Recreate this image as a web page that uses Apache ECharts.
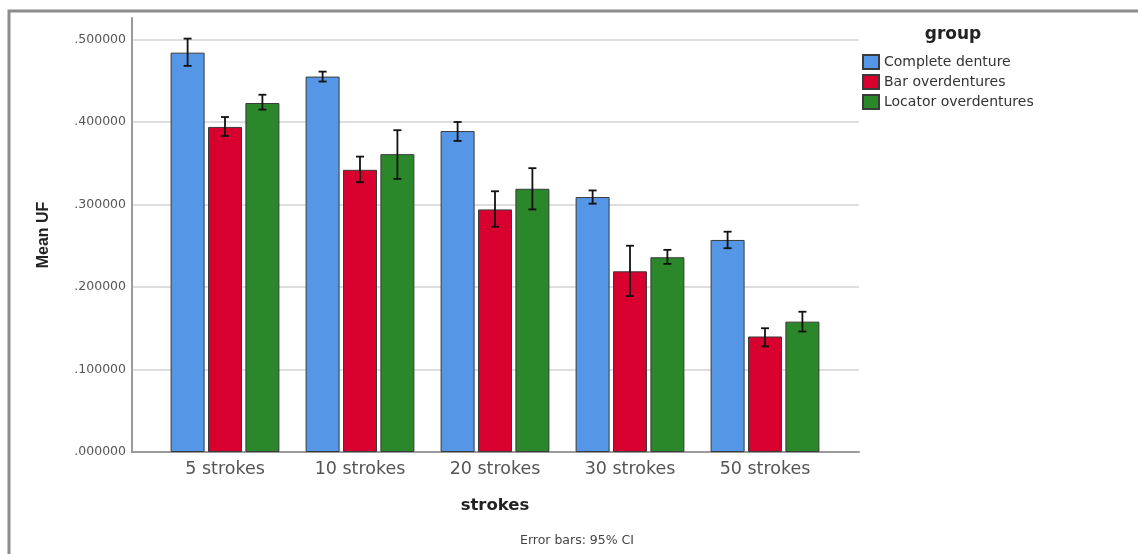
<!DOCTYPE html>
<html>
<head>
<meta charset="utf-8">
<script src="https://cdn.jsdelivr.net/npm/echarts@6/dist/echarts.min.js"></script>
<style>html,body{margin:0;padding:0;background:#fff}#c{width:1138px;height:554px}</style>
</head>
<body>
<div id="c"></div>
<script>
const categories = ['5 strokes', '10 strokes', '20 strokes', '30 strokes', '50 strokes'];
const groups = ['Complete denture', 'Bar overdentures', 'Locator overdentures'];
const colors = ['#5596e6', '#d7002f', '#2a872a'];
// means
const completeMean = [0.484, 0.455, 0.389, 0.309, 0.257];
const barMean      = [0.394, 0.342, 0.294, 0.219, 0.140];
const locatorMean  = [0.423, 0.361, 0.319, 0.236, 0.158];
// 95% CI lower / upper
const completeLow  = [0.468, 0.449, 0.377, 0.301, 0.247];
const completeHigh = [0.501, 0.461, 0.400, 0.317, 0.267];
const barLow       = [0.383, 0.327, 0.273, 0.189, 0.128];
const barHigh      = [0.406, 0.358, 0.316, 0.250, 0.150];
const locatorLow   = [0.415, 0.331, 0.294, 0.228, 0.146];
const locatorHigh  = [0.433, 0.390, 0.344, 0.245, 0.170];
const yTicks = [0, 0.1, 0.2, 0.3, 0.4, 0.5];

const means = [completeMean, barMean, locatorMean];
const lows = [completeLow, barLow, locatorLow];
const highs = [completeHigh, barHigh, locatorHigh];

const BAR_W = 34, GAP = 0.1;
const YMAX = 0.526;

const chart = echarts.init(document.getElementById('c'), null, {renderer: 'canvas'});

const series = [];
groups.forEach((g, i) => {
  series.push({
    name: g, type: 'bar', xAxisIndex: 1, yAxisIndex: 1,
    barWidth: BAR_W, barGap: (GAP * 100) + '%',
    data: means[i],
    itemStyle: {color: colors[i], borderColor: '#3a3a3a', borderWidth: 1},
    emphasis: {disabled: true}
  });
});
groups.forEach((g, i) => {
  series.push({
    name: 'err' + i, type: 'custom', xAxisIndex: 1, yAxisIndex: 1, z: 10,
    data: categories.map((c, k) => [k, lows[i][k], highs[i][k]]),
    encode: {x: 0, y: [1, 2]},
    renderItem: function (params, api) {
      const k = api.value(0);
      const lo = api.coord([k, api.value(1)]);
      const hi = api.coord([k, api.value(2)]);
      const off = (i - 1) * BAR_W * (1 + GAP);
      const x = lo[0] + off;
      const cap = 4;
      const st = {stroke: '#111', lineWidth: 1.8};
      return {type: 'group', children: [
        {type: 'line', shape: {x1: x, y1: hi[1], x2: x, y2: lo[1]}, style: st},
        {type: 'line', shape: {x1: x - cap, y1: hi[1], x2: x + cap, y2: hi[1]}, style: st},
        {type: 'line', shape: {x1: x - cap, y1: lo[1], x2: x + cap, y2: lo[1]}, style: st}
      ]};
    }
  });
});

chart.setOption({
  animation: false,
  backgroundColor: '#fff',
  grid: [
    {left: 132, right: 279, top: 18, bottom: 102},
    {left: 157.5, right: 305.5, top: 18, bottom: 102}
  ],
  xAxis: [
    {gridIndex: 0, type: 'value', min: 0, max: 1, axisLabel: {show: false}, axisTick: {show: false},
     splitLine: {show: false}, axisLine: {show: true, onZero: false, lineStyle: {color: '#9a9a9a', width: 2}}},
    {gridIndex: 1, type: 'category', data: categories, axisLine: {show: false}, axisTick: {show: false},
     axisLabel: {color: '#555', fontFamily: 'DejaVu Sans', fontSize: 17.5, margin: 8},
     name: 'strokes', nameLocation: 'middle', nameGap: 45,
     nameTextStyle: {fontFamily: 'DejaVu Sans', fontWeight: 'bold', fontSize: 16.5, color: '#222'}}
  ],
  yAxis: [
    {gridIndex: 0, type: 'value', min: 0, max: YMAX, interval: 0.1,
     axisLine: {show: true, lineStyle: {color: '#9a9a9a', width: 2}}, axisTick: {show: false},
     axisLabel: {color: '#555', fontFamily: 'DejaVu Sans', fontSize: 12.5, margin: 6, showMaxLabel: false,
       formatter: v => (yTicks.some(t => Math.abs(t - v) < 1e-9) ? '.' + v.toFixed(6).split('.')[1] : '')},
     splitLine: {show: true, showMaxLine: false, lineStyle: {color: '#dedede', width: 2}},
     name: 'Mean UF', nameLocation: 'middle', nameGap: 80, nameRotate: 90,
     nameTextStyle: {fontFamily: 'Liberation Sans', fontWeight: 'bold', fontSize: 16, color: '#222'}},
    {gridIndex: 1, type: 'value', min: 0, max: YMAX, show: false, splitLine: {show: false}}
  ],
  legend: {
    data: groups, orient: 'vertical', left: 862, top: 54, padding: 0, itemWidth: 16, itemHeight: 14, itemGap: 4,
    icon: 'rect', selectedMode: false,
    textStyle: {fontFamily: 'DejaVu Sans', fontSize: 14, color: '#333'}
  },
  graphic: [
    {type: 'rect', shape: {x: 9, y: 11, width: 1200, height: 600}, style: {fill: 'none', stroke: '#8c8c8c', lineWidth: 3}, silent: true},
    {type: 'text', x: 953, y: 35, style: {text: 'group', fontFamily: 'DejaVu Sans', fontWeight: 'bold', fontSize: 17, fill: '#222', textAlign: 'center', textVerticalAlign: 'middle'}},
    {type: 'text', x: 577, y: 541, style: {text: 'Error bars: 95% CI', fontFamily: 'DejaVu Sans', fontSize: 12.5, fill: '#444', textAlign: 'center', textVerticalAlign: 'middle'}}
  ],
  series: series
});
</script>
</body>
</html>
